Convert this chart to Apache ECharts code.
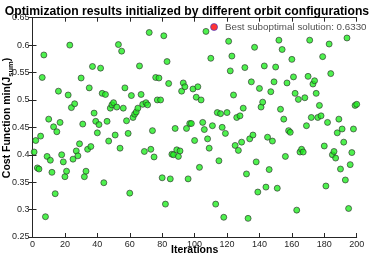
<!DOCTYPE html>
<html><head><meta charset="utf-8">
<script src="https://cdn.jsdelivr.net/npm/echarts@6/dist/echarts.min.js"></script>
<style>html,body{margin:0;padding:0;background:#fff}#c{width:374px;height:257px}</style>
</head><body><div id="c"></div>
<script>
const titleText = 'Optimization results initialized by different orbit configurations';
const xLabel = 'Iterations';
const xTicks = [0, 20, 40, 60, 80, 100, 120, 140, 160, 180, 200];
const yTicks = [0.25, 0.3, 0.35, 0.4, 0.45, 0.5, 0.55, 0.6, 0.65];
const bestIteration = 112;
const bestValue = 0.633;
const bestLabel = 'Best suboptimal solution: 0.6330';
// cost per iteration (1..200); iteration 112 is the best (red) one
const costValues = [
0.405,0.426,0.376,0.374,0.434,0.541,0.582,0.287,0.397,0.465,
0.390,0.368,0.451,0.329,0.442,0.516,0.459,0.400,0.387,0.360,
0.370,0.509,0.600,0.486,0.392,0.493,0.407,0.398,0.420,0.540,
0.456,0.360,0.370,0.410,0.522,0.415,0.561,0.476,0.461,0.440,
0.455,0.558,0.512,0.349,0.510,0.461,0.425,0.485,0.491,0.495,
0.436,0.487,0.601,0.412,0.589,0.485,0.522,0.462,0.439,0.330,
0.508,0.468,0.474,0.478,0.485,0.562,0.510,0.492,0.406,0.495,
0.491,0.623,0.410,0.444,0.396,0.541,0.500,0.540,0.500,0.358,
0.617,0.310,0.570,0.530,0.356,0.401,0.400,0.448,0.409,0.397,
0.407,0.516,0.531,0.524,0.448,0.356,0.457,0.457,0.520,0.426,
0.505,0.524,0.377,0.500,0.459,0.446,0.625,0.429,0.412,0.576,
0.453,0.633,0.310,0.477,0.389,0.475,0.450,0.286,0.439,0.477,
0.607,0.553,0.580,0.509,0.417,0.468,0.408,0.471,0.423,0.485,
0.559,0.365,0.284,0.429,0.533,0.436,0.596,0.387,0.332,0.521,
0.487,0.496,0.562,0.341,0.432,0.373,0.515,0.425,0.533,0.560,
0.339,0.609,0.483,0.592,0.465,0.397,0.531,0.444,0.441,0.574,
0.542,0.512,0.299,0.501,0.405,0.410,0.405,0.504,0.453,0.543,
0.609,0.468,0.529,0.535,0.512,0.468,0.490,0.471,0.579,0.416,
0.343,0.459,0.602,0.548,0.400,0.406,0.394,0.440,0.465,0.374,
0.447,0.423,0.354,0.613,0.302,0.382,0.404,0.447,0.490,0.492
];
const greenPts = [];
costValues.forEach((v, i) => { if (i + 1 !== bestIteration) greenPts.push([i + 1, v]); });

const axisCol = '#262626';
const font = 'Liberation Sans, Arial, sans-serif';
const chart = echarts.init(document.getElementById('c'));
const xBase = {type:'value', min:xTicks[0], max:xTicks[xTicks.length-1], interval:20,
  axisLine:{show:true,lineStyle:{color:axisCol,width:1}},
  axisTick:{show:true,inside:true,length:4,lineStyle:{color:axisCol}},
  splitLine:{show:false}};
const yBase = {type:'value', min:yTicks[0], max:yTicks[yTicks.length-1], interval:0.05,
  axisLine:{show:true,lineStyle:{color:axisCol,width:1}},
  axisTick:{show:true,inside:true,length:4,lineStyle:{color:axisCol}},
  splitLine:{show:false}};
chart.setOption({
  animation:false,
  title:{text:titleText,left:'center',top:1,
    textStyle:{fontFamily:font,fontSize:12.2,fontWeight:'bold',color:'#000'}},
  grid:{left:32.5,right:17.3,top:17.7,bottom:20,containLabel:false,outerBoundsMode:'none'},
  xAxis:[
    Object.assign({}, xBase, {position:'bottom',
      axisLabel:{show:true,fontFamily:font,fontSize:9,color:'#262626',margin:3},
      name:xLabel,nameLocation:'middle',nameGap:8,nameMoveOverlap:false,
      nameTextStyle:{fontFamily:font,fontSize:10.5,fontWeight:'bold',color:'#000'}}),
    Object.assign({}, xBase, {position:'top',axisLabel:{show:false}})
  ],
  yAxis:[
    Object.assign({}, yBase, {position:'left',
      axisLabel:{show:true,fontFamily:font,fontSize:9,color:'#262626',margin:3}}),
    Object.assign({}, yBase, {position:'right',axisLabel:{show:false}})
  ],
  graphic:[{type:'text',x:7.5,y:118,rotation:Math.PI/2,
    style:{text:'{n|Cost Function min(J}{s|sum}{n|)}',align:'center',verticalAlign:'middle',
      rich:{
        n:{fontFamily:font,fontSize:10.5,fontWeight:'bold',fill:'#000',color:'#000'},
        s:{fontFamily:font,fontSize:7.5,fontWeight:'bold',fill:'#000',color:'#000',padding:[7,0,0,0]}}}}],
  series:[
    {type:'scatter',data:greenPts,symbol:'circle',symbolSize:6,
      itemStyle:{color:'#22ee22',borderColor:'#2a2a2a',borderWidth:0.8}},
    {type:'scatter',data:[[bestIteration,bestValue]],symbol:'circle',symbolSize:7,
      itemStyle:{color:'#ff0000',borderColor:'#3333cc',borderWidth:0.8},
      label:{show:true,position:'right',distance:7,formatter:bestLabel,
        fontFamily:font,fontSize:9.8,color:'#222'}}
  ]
});
</script></body></html>
